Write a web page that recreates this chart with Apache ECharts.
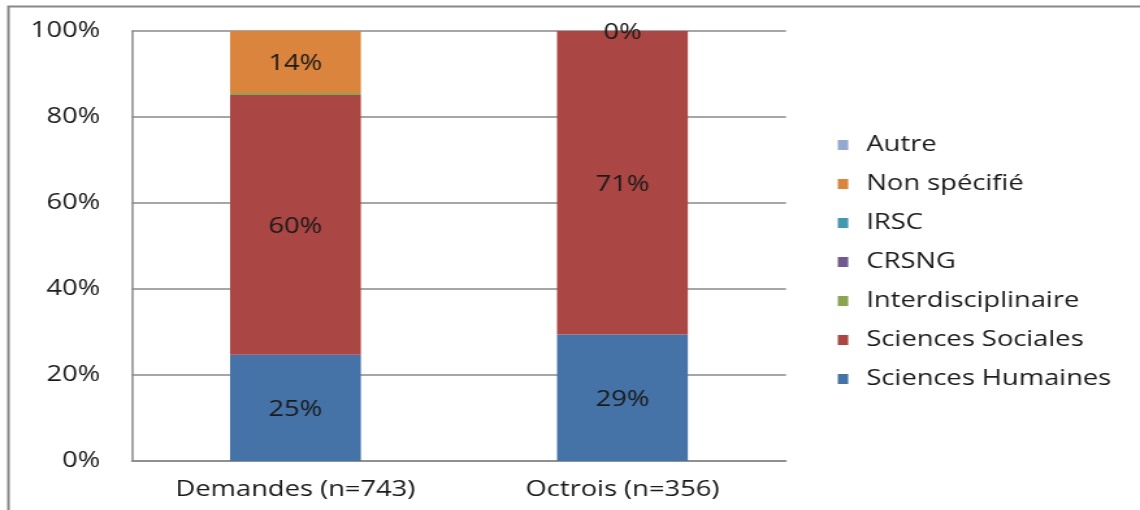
<!DOCTYPE html>
<html>
<head>
<meta charset="utf-8">
<script src="https://cdn.jsdelivr.net/npm/echarts@6/dist/echarts.min.js"></script>
<style>
  html, body { margin: 0; padding: 0; background: #fff; overflow: hidden; }
  /* the chart is laid out narrower, then widened to the page for its broad lettering */
  #chart { width: 877px; height: 510px; transform: scaleX(1.29989); transform-origin: 0 0; }
</style>
</head>
<body>
<div id="chart"></div>
<script>
// Répartition des demandes et des octrois par domaine (en %)
const categories = ['Demandes (n=743)', 'Octrois (n=356)'];
const sciencesHumaines = [24.7, 29.4];
const sciencesSociales = [60.4, 70.6];
const interdisciplinaire = [0.5, 0];
const crsng = [0, 0];
const irsc = [0, 0];
const nonSpecifie = [14.4, 0];
const autre = [0, 0];
const yTicks = [0, 20, 40, 60, 80, 100];

const FONT = '"Open Sans", "Noto Sans", sans-serif';
const FS = 21;
const TXT = '#1a1a1a';

function pctLabel(showZero) {
  return {
    show: true,
    position: 'inside',
    fontFamily: FONT,
    fontSize: FS,
    color: TXT,
    offset: [0, 2],
    formatter: p => (p.value === 0 && !showZero) ? '' : Math.round(p.value) + '%'
  };
}

function bar(name, data, color, label) {
  return {
    name: name,
    type: 'bar',
    stack: 'total',
    barWidth: '40%',
    data: data,
    itemStyle: { color: color },
    label: label || { show: false },
    emphasis: { disabled: true }
  };
}

const chart = echarts.init(document.getElementById('chart'), null, { renderer: 'canvas' });
chart.setOption({
  animation: false,
  backgroundColor: '#fff',
  graphic: [{
    type: 'polyline',
    shape: { points: [[900, 6.5], [6.5, 6.5], [6.5, 515]] },
    style: { stroke: '#888', lineWidth: 2, fill: null },
    silent: true
  }],
  grid: { left: 101.5, right: 272.4, top: 31, bottom: 49 },
  legend: {
    orient: 'vertical',
    left: 639.5,
    top: 129.5,
    itemGap: 18,
    itemWidth: 8,
    itemHeight: 10,
    icon: 'rect',
    textStyle: { fontFamily: FONT, fontSize: FS, color: TXT, padding: [0, 0, 0, 9] },
    data: ['Autre', 'Non spécifié', 'IRSC', 'CRSNG', 'Interdisciplinaire', 'Sciences Sociales', 'Sciences Humaines']
  },
  xAxis: {
    type: 'category',
    data: categories,
    axisLine: { lineStyle: { color: '#888', width: 1.5 } },
    axisTick: { show: false },
    axisLabel: { fontFamily: FONT, fontSize: FS, color: TXT, margin: 19 }
  },
  yAxis: {
    type: 'value',
    min: yTicks[0],
    max: yTicks[yTicks.length - 1],
    interval: 20,
    axisLine: { show: true, lineStyle: { color: '#888', width: 1.5 } },
    axisTick: { show: false },
    splitLine: { lineStyle: { color: '#888', width: 1.5 } },
    axisLabel: { fontFamily: FONT, fontSize: FS, color: TXT, margin: 24.5, formatter: '{value}%' }
  },
  series: [
    bar('Sciences Humaines', sciencesHumaines, '#4572A7', pctLabel(false)),
    bar('Sciences Sociales', sciencesSociales, '#AA4643', pctLabel(false)),
    bar('Interdisciplinaire', interdisciplinaire, '#89A54E'),
    bar('CRSNG', crsng, '#71588F'),
    bar('IRSC', irsc, '#4198AF'),
    bar('Non spécifié', nonSpecifie, '#DB843D', pctLabel(true)),
    bar('Autre', autre, '#93A9CF')
  ]
});
</script>
</body>
</html>
